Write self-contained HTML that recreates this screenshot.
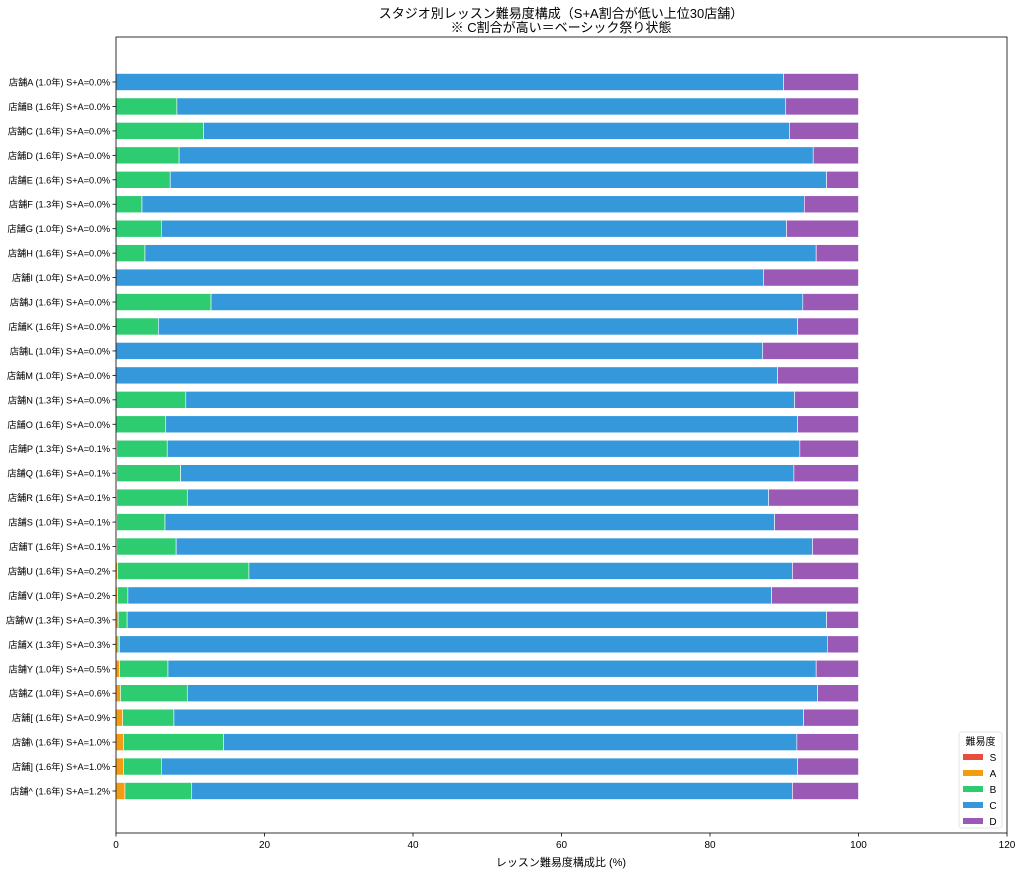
<!DOCTYPE html>
<html><head><meta charset="utf-8"><style>
body{margin:0;background:#fff}
svg{display:block;font-family:"Liberation Sans","Noto Sans CJK JP",sans-serif}
</style></head><body>
<svg id="chart" width="1024" height="877">
<text x="561" y="18" text-anchor="middle" font-size="13">スタジオ別レッスン難易度構成（S+A割合が低い上位30店舗）</text>
<text x="561" y="32" text-anchor="middle" font-size="13">※ C割合が高い＝ベーシック祭り状態</text>
<g id="bars"></g>
<g id="axes"></g>
<text x="561" y="866" text-anchor="middle" font-size="11">レッスン難易度構成比 (%)</text>
</svg>
<script>
const labels=["店舗A (1.0年) S+A=0.0%","店舗B (1.6年) S+A=0.0%","店舗C (1.6年) S+A=0.0%","店舗D (1.6年) S+A=0.0%","店舗E (1.6年) S+A=0.0%","店舗F (1.3年) S+A=0.0%","店舗G (1.0年) S+A=0.0%","店舗H (1.6年) S+A=0.0%","店舗I (1.0年) S+A=0.0%","店舗J (1.6年) S+A=0.0%","店舗K (1.6年) S+A=0.0%","店舗L (1.0年) S+A=0.0%","店舗M (1.0年) S+A=0.0%","店舗N (1.3年) S+A=0.0%","店舗O (1.6年) S+A=0.0%","店舗P (1.3年) S+A=0.1%","店舗Q (1.6年) S+A=0.1%","店舗R (1.6年) S+A=0.1%","店舗S (1.0年) S+A=0.1%","店舗T (1.6年) S+A=0.1%","店舗U (1.6年) S+A=0.2%","店舗V (1.0年) S+A=0.2%","店舗W (1.3年) S+A=0.3%","店舗X (1.3年) S+A=0.3%","店舗Y (1.0年) S+A=0.5%","店舗Z (1.0年) S+A=0.6%","店舗[ (1.6年) S+A=0.9%","店舗\\ (1.6年) S+A=1.0%","店舗] (1.6年) S+A=1.0%","店舗^ (1.6年) S+A=1.2%"];
const seriesS=[0,0,0,0,0,0,0,0,0,0,0,0,0,0,0,0,0,0,0,0,0,0,0,0,0,0,0,0,0,0];
const seriesA=[0,0,0,0,0,0,0,0,0,0,0,0,0,0,0,0.1,0.1,0.1,0.1,0.1,0.2,0.2,0.3,0.3,0.5,0.6,0.9,1.0,1.0,1.2];
const seriesB=[0,8.2,11.8,8.5,7.3,3.5,6.1,3.9,0,12.8,5.7,0,0,9.4,6.7,6.8,8.6,9.5,6.5,8.0,17.7,1.4,1.2,0.2,6.5,9.0,6.9,13.5,5.1,9.0];
const seriesC=[89.9,82.0,78.9,85.4,88.4,89.2,84.2,90.4,87.2,79.7,86.1,87.1,89.1,82.0,85.1,85.2,82.6,78.3,82.1,85.7,73.2,86.7,94.2,95.3,87.3,84.9,84.8,77.2,85.7,80.9];
const seriesD=[10.1,9.8,9.3,6.1,4.3,7.3,9.7,5.7,12.8,7.5,8.2,12.9,10.9,8.6,8.2,7.9,8.7,12.1,11.3,6.2,8.9,11.7,4.3,4.2,5.7,5.5,7.4,8.3,8.2,8.9];
const xTicks=[0,20,40,60,80,100,120];
const seriesNames=["S","A","B","C","D"];
const colors=["#e74c3c","#f39c12","#2ecc71","#3498db","#9b59b6"];
const L=116,R=1007,T=37,B=833;
const x=v=>L+(v/120)*(R-L);
const y=i=>82+i*((791-82)/29);
const bh=17;
const NS="http://www.w3.org/2000/svg";
const g=document.getElementById('bars'),ax=document.getElementById('axes');
function mk(tag,attrs,parent){const e=document.createElementNS(NS,tag);for(const k in attrs)e.setAttribute(k,attrs[k]);parent.appendChild(e);return e;}
const all=[seriesS,seriesA,seriesB,seriesC,seriesD];
labels.forEach((lab,i)=>{
  let acc=0;
  all.forEach((s,k)=>{
    const v=s[i];
    if(v>0){
      const r=mk('rect',{x:x(acc),y:y(i)-bh/2,width:x(acc+v)-x(acc),height:bh,fill:colors[k],stroke:'#fff','stroke-width':0.6},g);
      
      
    }
    acc+=v;
  });
  mk('line',{x1:L-3.5,x2:L,y1:y(i),y2:y(i),stroke:'#000','stroke-width':0.8},ax);
  const t=mk('text',{x:L-6,y:y(i)+3.5,'text-anchor':'end','font-size':9.2},ax);
  t.textContent=lab;
  
  
});
const fr=mk('rect',{x:L,y:T,width:R-L,height:B-T,fill:'none',stroke:'#000','stroke-width':0.8},ax);


xTicks.forEach(v=>{
  mk('line',{x1:x(v),x2:x(v),y1:B,y2:B+3.5,stroke:'#000','stroke-width':0.8},ax);
  const t=mk('text',{x:x(v),y:B+15,'text-anchor':'middle','font-size':10},ax);
  t.textContent=v;
  
  
});
const lg=mk('g',{},ax);


mk('rect',{x:959,y:732,width:43,height:96,rx:3,fill:'#fff',stroke:'#ddd','stroke-width':0.8},lg);
const lt=mk('text',{x:980.5,y:745,'text-anchor':'middle','font-size':10},lg);
lt.textContent='難易度';
seriesNames.forEach((n,k)=>{
  const yy=757+k*16;
  mk('rect',{x:963,y:yy-3,width:20,height:6,fill:colors[k]},lg);
  const t=mk('text',{x:993,y:yy+4,'text-anchor':'middle','font-size':10},lg);
  t.textContent=n;
  
  
});
</script>
</body></html>
